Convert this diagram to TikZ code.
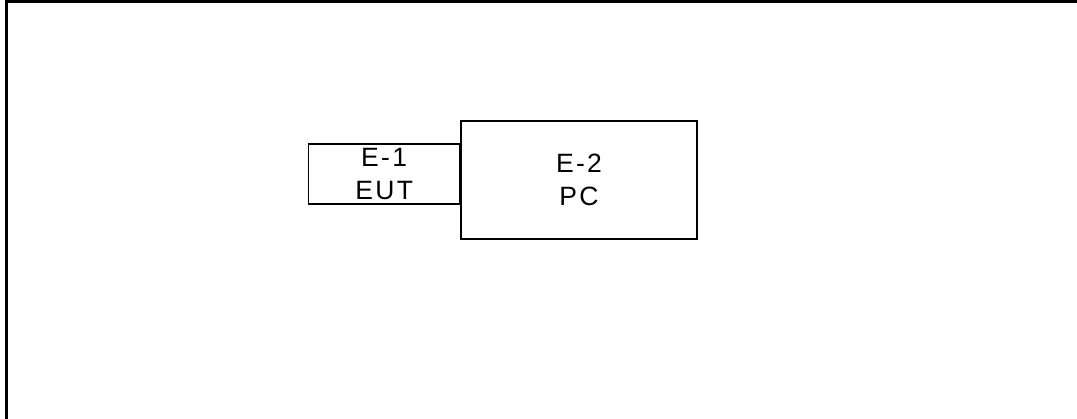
\documentclass[tikz,border=0pt]{standalone}
\usepackage{fontspec}
\setmainfont{Liberation Sans}[LetterSpace=9]
\begin{document}
\begin{tikzpicture}[x=1pt,y=-1pt,
  unit/.style={draw=black, line width=1.3pt, rectangle, inner sep=0pt,
    align=center, font=\fontsize{26.5}{32.5}\selectfont}]
\useasboundingbox (0,0) rectangle (1077,418);
% outer frame (top and left edges)
\draw[line width=2.2pt] (6.5,420) -- (6.5,1.5) -- (1080,1.5);
% equipment boxes
\node[unit, minimum width=236pt, minimum height=118pt] (pc) at (579,180) {E-2\\PC};
\node[unit, minimum width=151pt, minimum height=60pt, anchor=east] (eut) at ([yshift=6pt]pc.west) {E-1\\EUT};
\end{tikzpicture}
\end{document}
